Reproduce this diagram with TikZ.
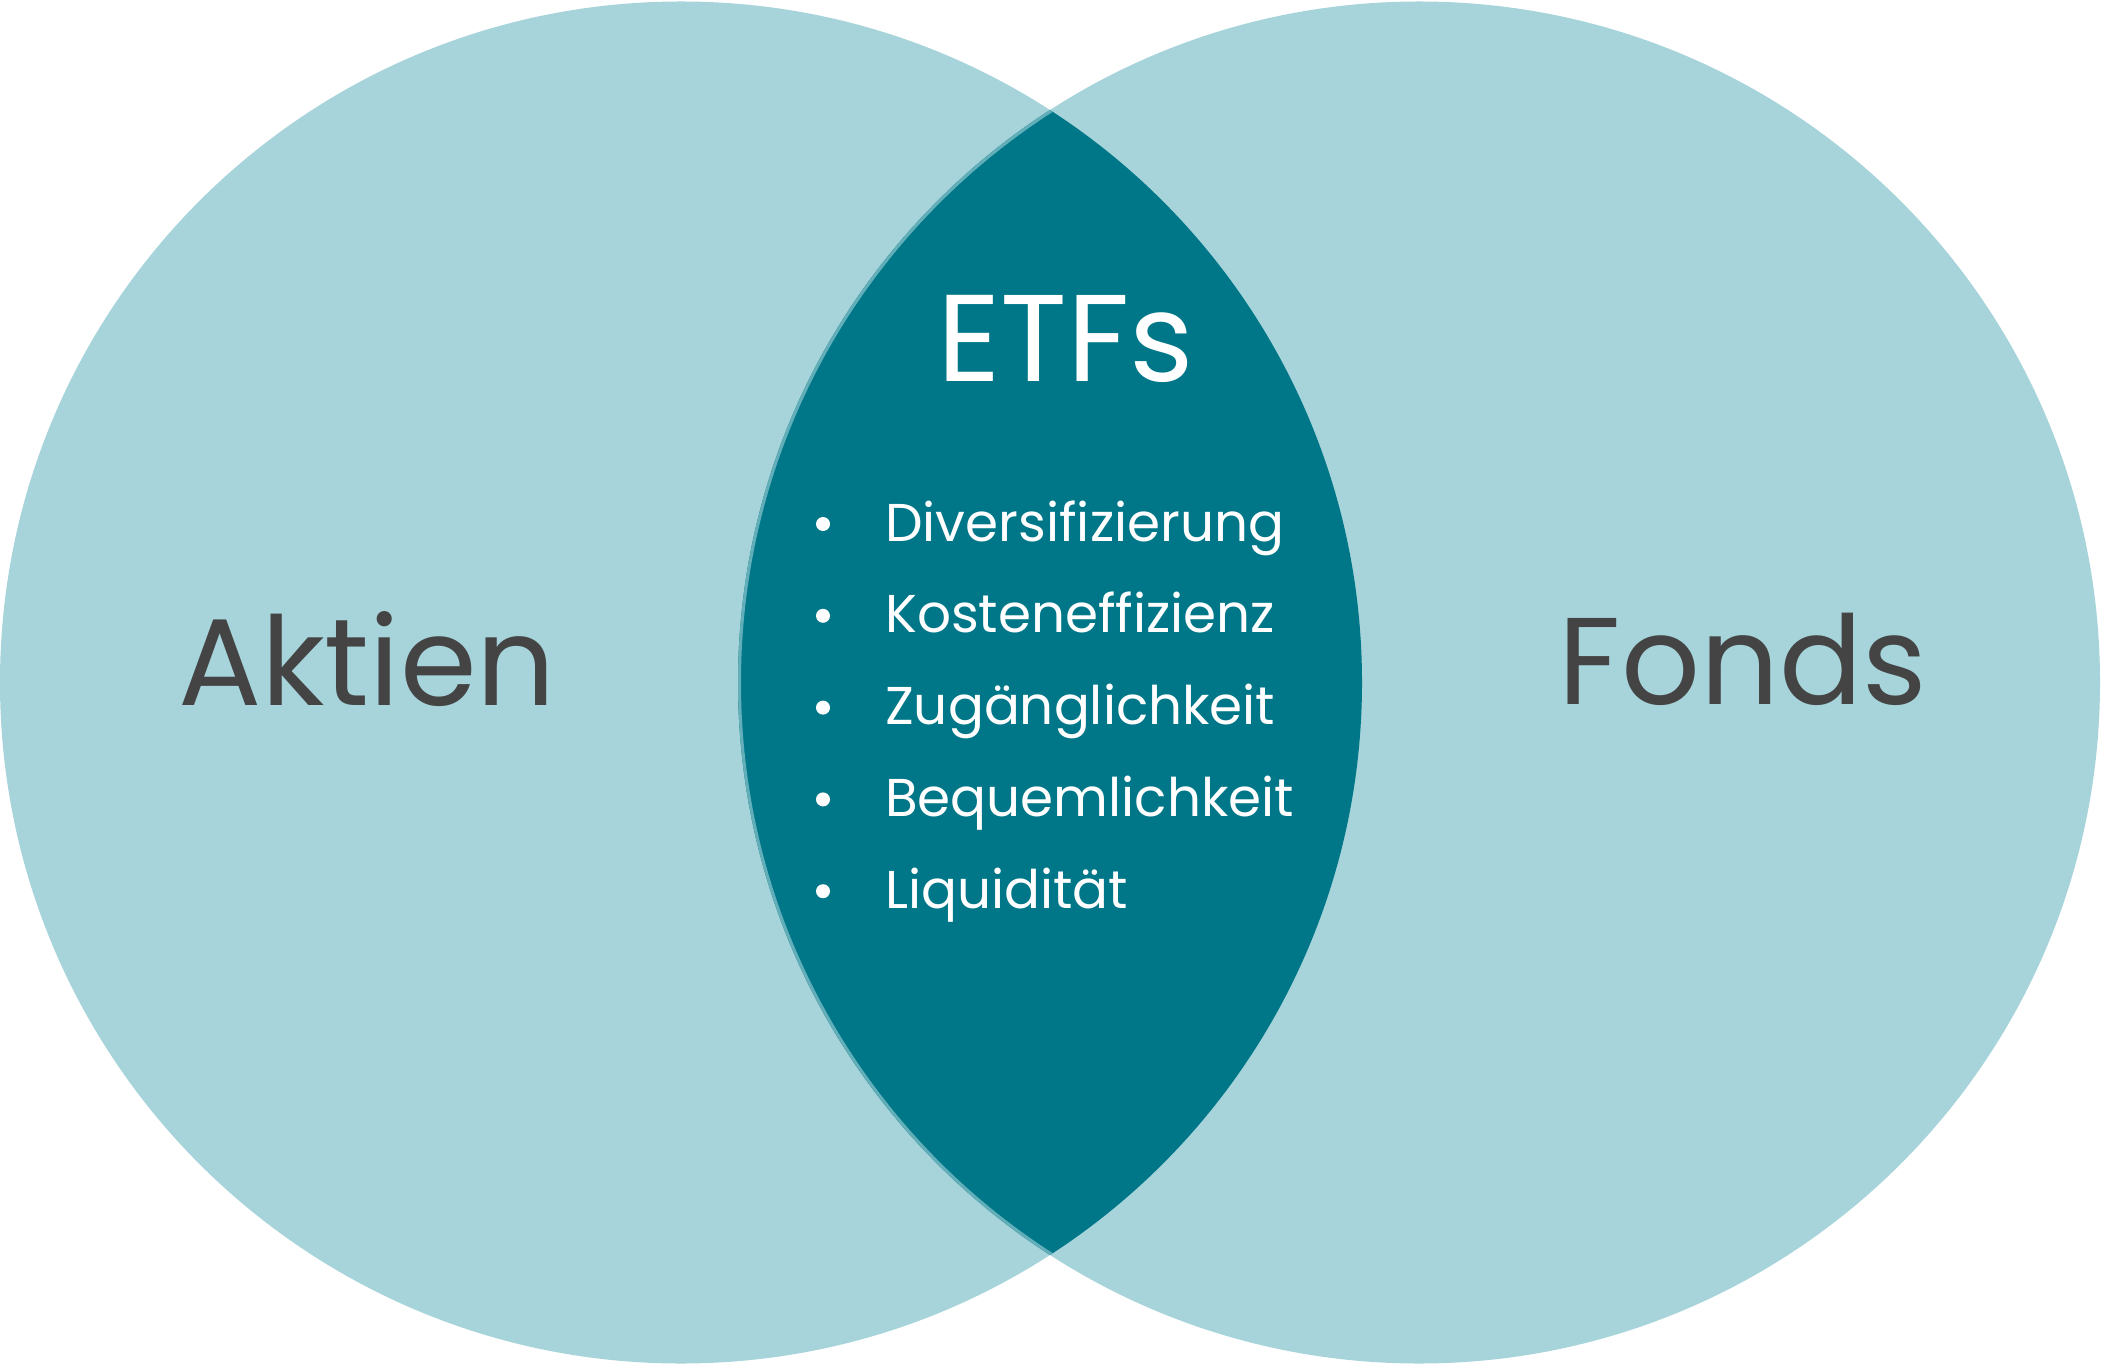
\documentclass[tikz,border=0pt]{standalone}
\usepackage{fontspec}
\setmainfont{Poppins}
\definecolor{lightc}{HTML}{A6D4DA}
\definecolor{darkc}{HTML}{007788}
\definecolor{rimc}{HTML}{62AEB9}
\definecolor{labelc}{HTML}{444444}
\begin{document}
\begin{tikzpicture}[x=1bp,y=-1bp,
  biglabel/.style={inner sep=0pt, anchor=base, font=\fontsize{123.5bp}{130bp}\selectfont},
  itemtext/.style={inner sep=0pt, anchor=base west, text=white, font=\fontsize{53.2bp}{60bp}\selectfont},
  bulletdot/.style={circle, fill=white, inner sep=0pt, minimum size=14bp}]
\useasboundingbox (0,0) rectangle (2102,1366);
\fill[lightc] (681,682.5) circle (681bp);
\fill[lightc] (1419,682.5) circle (681bp);
\begin{scope}
  \clip (681,682.5) circle (681bp);
  \fill[darkc] (1419,682.5) circle (681bp);
  \draw[rimc, line width=3bp] (1419,682.5) circle (679.5bp);
\end{scope}
\node[biglabel, text=labelc] (aktien) at (367,705) {Aktien};
\node[biglabel, text=labelc] (fonds) at (1743,704) {Fonds};
\node[biglabel, text=white] (etfs) at (1066,382) {ETFs};
\foreach \t [count=\i] in {Diversifizierung,Kosteneffizienz,Zugänglichkeit,Bequemlichkeit,Liquidität}{
  \node[itemtext] (item\i) at (885,{541+91.8*(\i-1)}) {\t};
  \node[bulletdot] (bullet\i) at (823,{524+91.8*(\i-1)}) {};
}
\end{tikzpicture}
\end{document}
